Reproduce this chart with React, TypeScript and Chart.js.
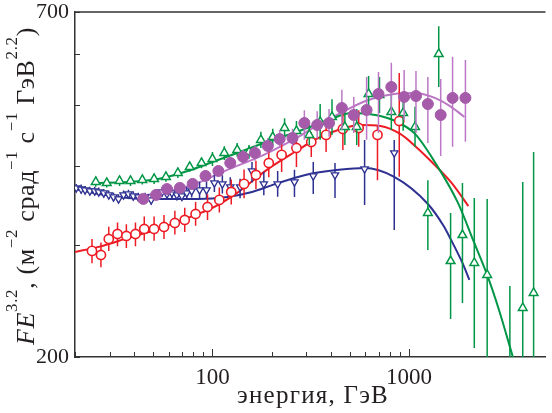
import React, { useEffect, useRef } from "react";
import { Chart, registerables } from "chart.js";

Chart.register(...registerables);

const FONT = "'Liberation Serif', 'Times New Roman', serif";
const TEXT = "#231f20";
const AXIS = "#333333";

const GREEN = "rgb(0,150,70)";
const RED = "rgb(237,28,36)";
const BLUE = "rgb(46,49,146)";
const PURPLE_M = "rgb(165,90,170)";
const PURPLE_L = "rgb(188,120,198)";

// axes
const xTicks = [20, 30, 40, 50, 60, 70, 80, 90, 100, 200, 300, 400, 500, 600, 700, 800, 900, 1000];
const xLabeled = [100, 1000];
const yTicks = [200, 300, 400, 500, 600, 700];
const yLabeled = [200, 700];
const xTitle = "энергия, ГэВ";
const yTitleParts = [
  { t: "FE", it: true, sup: false },
  { t: "3.2", it: false, sup: true },
  { t: ", (м", it: false, sup: false },
  { t: "−2", it: false, sup: true },
  { t: " срад", it: false, sup: false },
  { t: "−1", it: false, sup: true },
  { t: " с", it: false, sup: false },
  { t: "−1", it: false, sup: true },
  { t: " ГэВ", it: false, sup: false },
  { t: "2.2", it: false, sup: true },
  { t: ")", it: false, sup: false },
];

// green open triangles
const greenE = [25.5, 29.0, 33.7, 38.3, 44.0, 50.5, 58.0, 66.7, 76.6, 88.0, 100, 114.9, 133.6, 153.5, 176.3, 202.6, 232.7, 267.4, 310.9, 353.0, 405.5, 471.4, 541.6, 622.3, 707.0, 812.2, 933, 1072, 1246, 1415, 1626, 1868, 2146, 2495, 3255, 3784, 4298];
const greenV = [377.7, 376.3, 379.1, 379.1, 380.4, 381.8, 384.6, 390.2, 398.8, 404.6, 410.5, 419.6, 424.2, 421.1, 439.8, 444.6, 459.4, 454.5, 448.0, 469.6, 478.2, 461.1, 461.1, 519.8, 517.8, 487, 485.2, 461.1, 337.4, 601.2, 283.4, 311.4, 281.4, 269.4, 185, 239, 252.4];
const greenLo = [371, 370, 372, 372, 374, 375, 378, 383, 392, 397, 400, 409, 414, 411, 427, 431, 443, 438, 432, 440, 448, 432, 432, 487, 485, 456, 455, 429, 295, 533, 229.6, 243.4, 206.6, 190, 150, 150, 150];
const greenHi = [385, 383, 386, 386, 387, 389, 392, 397, 406, 412, 421, 430, 435, 432, 453, 458, 476, 471, 465, 501, 510, 492, 492, 555, 553, 520, 518, 496, 380, 665, 337.4, 376.3, 356.4, 355, 258.8, 377.7, 421.1];

// red open circles
const redE = [24.4, 27.1, 29.7, 32.9, 36.5, 40.6, 45.0, 50.5, 56.7, 64.4, 72.3, 82.1, 94.4, 108.4, 124.6, 144.8, 166.4, 193.4, 224.8, 267.4, 318.1, 378.4, 460.5, 554.3, 690.7, 891.2];
const redV = [294, 289.7, 307, 312.6, 310.4, 312.6, 318.4, 318.4, 320.7, 325.4, 329, 336.2, 344.8, 353.8, 364.2, 375, 387.4, 404.6, 416.6, 427.2, 436.6, 448, 457.8, 459.4, 448, 471.2];
const redLo = [281, 277, 294, 299, 297, 299, 305, 305, 307, 312, 315, 322, 329, 338, 348, 356, 368, 384, 391.6, 398.8, 413.6, 421, 424, 429, 380, 385];
const redHi = [307, 303, 321, 326, 324, 326, 333, 333, 335, 340, 344, 351, 361, 370, 381, 395, 408, 426, 435, 444.6, 452.8, 470, 485, 490, 464, 561];

// purple filled circles
const purpleE = [44.5, 51.7, 58.7, 68.3, 79.3, 92.2, 107.2, 123.2, 143.2, 164.5, 191.2, 219.7, 255.3, 293.4, 340.9, 391.7, 455.2, 523.1, 608.1, 698.8, 812.2, 943.8, 1084, 1246, 1448, 1664, 1934];
const purpleV = [355.1, 360.3, 368, 369.6, 375, 386, 393, 404.6, 413.6, 419.6, 430.4, 441.4, 443, 467.8, 464.4, 467.8, 494, 481.6, 490.4, 519.8, 533.2, 514.2, 516, 501.2, 481.6, 512.4, 512.4];
const purpleLo = [349, 354, 362, 363, 368, 378, 385, 395, 403, 408, 418, 428, 429, 440, 442, 445, 456, 451, 440, 451, 482, 473, 451, 435, 415, 429, 437];
const purpleHi = [361, 367, 374, 376, 382, 394, 401, 414, 424, 431, 443, 456, 458, 490, 488, 492, 528, 514, 553, 563, 582, 567, 565, 553, 549, 595, 588];

// blue open down-triangles
const blueE = [20.3, 21.5, 22.5, 23.8, 25.2, 26.4, 28.0, 29.7, 31.4, 33.3, 35.3, 37.4, 39.6, 42.0, 45.5, 48.8, 52.3, 55.4, 58.7, 62.2, 65.9, 69.9, 74.0, 78.4, 86.0, 93.3, 102.3, 112.3, 123.2, 138.2, 158.9, 182.5, 214.6, 261.3, 325.6, 420.0, 594, 840.5];
const blueV = [369.6, 368, 366.8, 365.5, 365.5, 364.2, 362.9, 360.3, 357.7, 355.1, 360.3, 361.6, 359, 357.7, 357.7, 353.8, 361.6, 364.2, 361.6, 362.9, 360.3, 359, 362.9, 365.5, 366.8, 366.8, 376.3, 375, 370.9, 370.9, 393, 375, 375, 377.7, 386, 387.4, 395.9, 419.6];
const blueLo = [364, 362, 361, 360, 360, 359, 357, 355, 352, 350, 355, 356, 353, 352, 352, 348, 355, 358, 355, 356, 353, 352, 355, 357, 356, 355, 364, 362, 358, 356, 377, 360, 358, 357.7, 361.6, 356.4, 347.4, 317.2];
const blueHi = [375, 374, 372, 371, 371, 370, 368, 366, 363, 361, 366, 367, 365, 363, 363, 360, 368, 370, 368, 370, 367, 366, 371, 374, 378, 378, 388, 387, 384, 382, 406, 392, 393, 394.6, 406, 404.6, 439.8, 439.8];

// fitted curves
const greenFitE = [25, 37.4, 52.9, 74.9, 100, 133.6, 189, 267.4, 378.4, 511.1, 674.9, 850.6, 1072, 1351, 1763, 2146, 2495, 2866, 3371, 3613];
const greenFitV = [376.3, 377.7, 381.8, 393, 406, 419.6, 436.6, 452.8, 471.2, 485.2, 481.6, 471.2, 449.6, 406, 351.2, 302.6, 269.4, 237.2, 200, 186];
const redFitE = [20, 26.4, 37.4, 52.9, 74.9, 100, 133.6, 189, 267.4, 337, 450.1, 567.4, 715.1, 901.4, 1072, 1351, 1645, 2002];
const redFitV = [292.9, 298.3, 308.2, 318.4, 331.4, 343.6, 362.9, 394.6, 422.6, 441.4, 457.8, 464.4, 462.8, 449.6, 430.4, 401.6, 376.3, 346];
const blueFitE = [20, 26.4, 37.4, 52.9, 84.1, 119, 158.9, 202.6, 296.8, 439.8, 594, 840.5, 1246, 1499, 1626, 1868, 2026];
const blueFitV = [368, 361.6, 356.4, 355.1, 355.1, 357.7, 364.2, 373.6, 387.4, 394.6, 397.3, 384.6, 348.6, 321.8, 307, 281.4, 264.6];
const purpleFitE = [43.5, 66.7, 84.1, 119, 182.5, 267.4, 337, 439.8, 601, 840.5, 1072, 1351, 1607, 1911];
const purpleFitV = [359, 368, 376.3, 394.6, 416.6, 443, 462.8, 483.4, 506.8, 519.8, 521.6, 512.4, 497.8, 478.2];

const pts = (xs: number[], ys: number[]) => xs.map((x, i) => ({ x, y: ys[i] }));

const errorBarPlugin = {
  id: "errorBars",
  beforeDatasetDraw(chart: any, args: any) {
    const ds = chart.data.datasets[args.index];
    if (!ds.errLo) return;
    const { ctx, chartArea } = chart;
    const xs = chart.scales.x;
    const ys = chart.scales.y;
    ctx.save();
    ctx.beginPath();
    ctx.rect(chartArea.left, chartArea.top, chartArea.right - chartArea.left, chartArea.bottom - chartArea.top);
    ctx.clip();
    ctx.strokeStyle = ds.errColor;
    ctx.lineWidth = 1.5;
    ds.data.forEach((p: any, i: number) => {
      const px = xs.getPixelForValue(p.x);
      ctx.beginPath();
      ctx.moveTo(px, ys.getPixelForValue(ds.errLo[i]));
      ctx.lineTo(px, ys.getPixelForValue(ds.errHi[i]));
      ctx.stroke();
    });
    ctx.restore();
  },
};

const frameTitlePlugin = {
  id: "frameTitles",
  afterDraw(chart: any) {
    const { ctx, chartArea } = chart;
    const { left, right, top, bottom } = chartArea;
    const xs = chart.scales.x;
    const ys = chart.scales.y;
    ctx.save();
    ctx.strokeStyle = AXIS;
    ctx.lineWidth = 1.5;
    ctx.beginPath();
    ctx.moveTo(left, top);
    ctx.lineTo(right, top);
    ctx.stroke();
    ctx.lineWidth = 1;
    ctx.beginPath();
    xTicks.forEach((v) => {
      const px = Math.round(xs.getPixelForValue(v)) + 0.5;
      const len = xLabeled.includes(v) ? 8 : 5;
      ctx.moveTo(px, bottom);
      ctx.lineTo(px, bottom - len);
    });
    yTicks.forEach((v) => {
      const py = Math.round(ys.getPixelForValue(v)) + 0.5;
      ctx.moveTo(left, py);
      ctx.lineTo(left + 5, py);
    });
    ctx.stroke();

    // x title
    ctx.fillStyle = TEXT;
    ctx.font = `25px ${FONT}`;
    ctx.textBaseline = "middle";
    ctx.textAlign = "left";
    const natX = ctx.measureText(xTitle).width;
    const lsX = Math.max(0, Math.min(1.5, (152 - natX) / xTitle.length));
    (ctx as any).letterSpacing = `${lsX}px`;
    const wX = ctx.measureText(xTitle).width;
    ctx.fillText(xTitle, 237 + (152 - wX) / 2, 396);
    (ctx as any).letterSpacing = "0px";

    // y title (rotated, with superscripts)
    const fontOf = (p: any) => `${p.it ? "italic " : ""}${p.sup ? 17 : 26}px ${FONT}`;
    let nat = 0;
    let chars = 0;
    yTitleParts.forEach((p) => {
      ctx.font = fontOf(p);
      nat += ctx.measureText(p.t).width;
      chars += p.t.length;
    });
    const ls = Math.max(0, Math.min(1.5, (318 - nat) / chars));
    ctx.translate(34, 345);
    ctx.rotate(-Math.PI / 2);
    ctx.textBaseline = "alphabetic";
    (ctx as any).letterSpacing = `${ls}px`;
    let x = 0;
    yTitleParts.forEach((p) => {
      ctx.font = fontOf(p);
      ctx.fillText(p.t, x, p.sup ? -17 : 0);
      x += ctx.measureText(p.t).width;
    });
    (ctx as any).letterSpacing = "0px";
    ctx.restore();
  },
};

export default function App() {
  const ref = useRef<HTMLCanvasElement | null>(null);
  useEffect(() => {
    if (!ref.current) return;
    const pointDs = (label: string, E: number[], V: number[], lo: number[], hi: number[], opts: any) => ({
      label,
      data: pts(E, V),
      showLine: false,
      errLo: lo,
      errHi: hi,
      ...opts,
    });
    const lineDs = (label: string, E: number[], V: number[], color: string) => ({
      label,
      data: pts(E, V),
      showLine: true,
      borderColor: color,
      borderWidth: 2,
      pointRadius: 0,
      cubicInterpolationMode: "monotone",
      fill: false,
    });
    const chart = new Chart(ref.current, {
      type: "scatter",
      data: {
        datasets: [
          pointDs("purple", purpleE, purpleV, purpleLo, purpleHi, {
            errColor: PURPLE_L,
            pointStyle: "circle",
            pointRadius: 5.5,
            backgroundColor: PURPLE_M,
            borderColor: PURPLE_M,
            borderWidth: 1,
          }),
          pointDs("green", greenE, greenV, greenLo, greenHi, {
            errColor: GREEN,
            pointStyle: "triangle",
            pointRadius: 5,
            backgroundColor: "#ffffff",
            borderColor: GREEN,
            borderWidth: 1.5,
          }),
          pointDs("red", redE, redV, redLo, redHi, {
            errColor: RED,
            pointStyle: "circle",
            pointRadius: 4.6,
            backgroundColor: "#ffffff",
            borderColor: RED,
            borderWidth: 1.6,
          }),
          pointDs("blue", blueE, blueV, blueLo, blueHi, {
            errColor: BLUE,
            pointStyle: "triangle",
            rotation: 180,
            pointRadius: 4.2,
            backgroundColor: "#ffffff",
            borderColor: BLUE,
            borderWidth: 1.3,
          }),
          lineDs("green fit", greenFitE, greenFitV, GREEN),
          lineDs("red fit", redFitE, redFitV, RED),
          lineDs("purple fit", purpleFitE, purpleFitV, PURPLE_L),
          lineDs("blue fit", blueFitE, blueFitV, BLUE),
        ] as any,
      },
      options: {
        responsive: false,
        devicePixelRatio: 1,
        animation: false,
        layout: { padding: { left: 0, top: 12, right: 0, bottom: 0 } },
        plugins: { legend: { display: false }, tooltip: { enabled: false } },
        scales: {
          x: {
            type: "logarithmic",
            min: 20,
            max: 4940,
            afterBuildTicks: (s: any) => {
              s.ticks = xTicks.map((v) => ({ value: v }));
            },
            afterFit: (s: any) => {
              s.height = 56;
              s.paddingLeft = 0;
              s.paddingRight = 0;
            },
            grid: { display: false, drawTicks: false },
            border: { display: true, color: AXIS, width: 1.5 },
            ticks: {
              autoSkip: false,
              maxRotation: 0,
              padding: 7,
              color: TEXT,
              font: { family: FONT, size: 23 },
              callback: (v: any) => (xLabeled.includes(Number(v)) ? String(v) : ""),
            },
          },
          y: {
            type: "logarithmic",
            min: 200,
            max: 700,
            afterBuildTicks: (s: any) => {
              s.ticks = yTicks.map((v) => ({ value: v }));
            },
            afterFit: (s: any) => {
              s.width = 75;
              s.paddingTop = 0;
              s.paddingBottom = 0;
            },
            grid: { display: false, drawTicks: false },
            border: { display: true, color: AXIS, width: 1.5 },
            ticks: {
              autoSkip: false,
              padding: 6,
              color: TEXT,
              font: { family: FONT, size: 22 },
              callback: (v: any) => (yLabeled.includes(Number(v)) ? String(v) : ""),
            },
          },
        },
      } as any,
      plugins: [errorBarPlugin, frameTitlePlugin],
    });
    return () => chart.destroy();
  }, []);
  return (
    <div style={{ position: "fixed", left: 0, top: 0, width: 552, height: 413, background: "#fff" }}>
      <canvas ref={ref} width={552} height={413} />
    </div>
  );
}
